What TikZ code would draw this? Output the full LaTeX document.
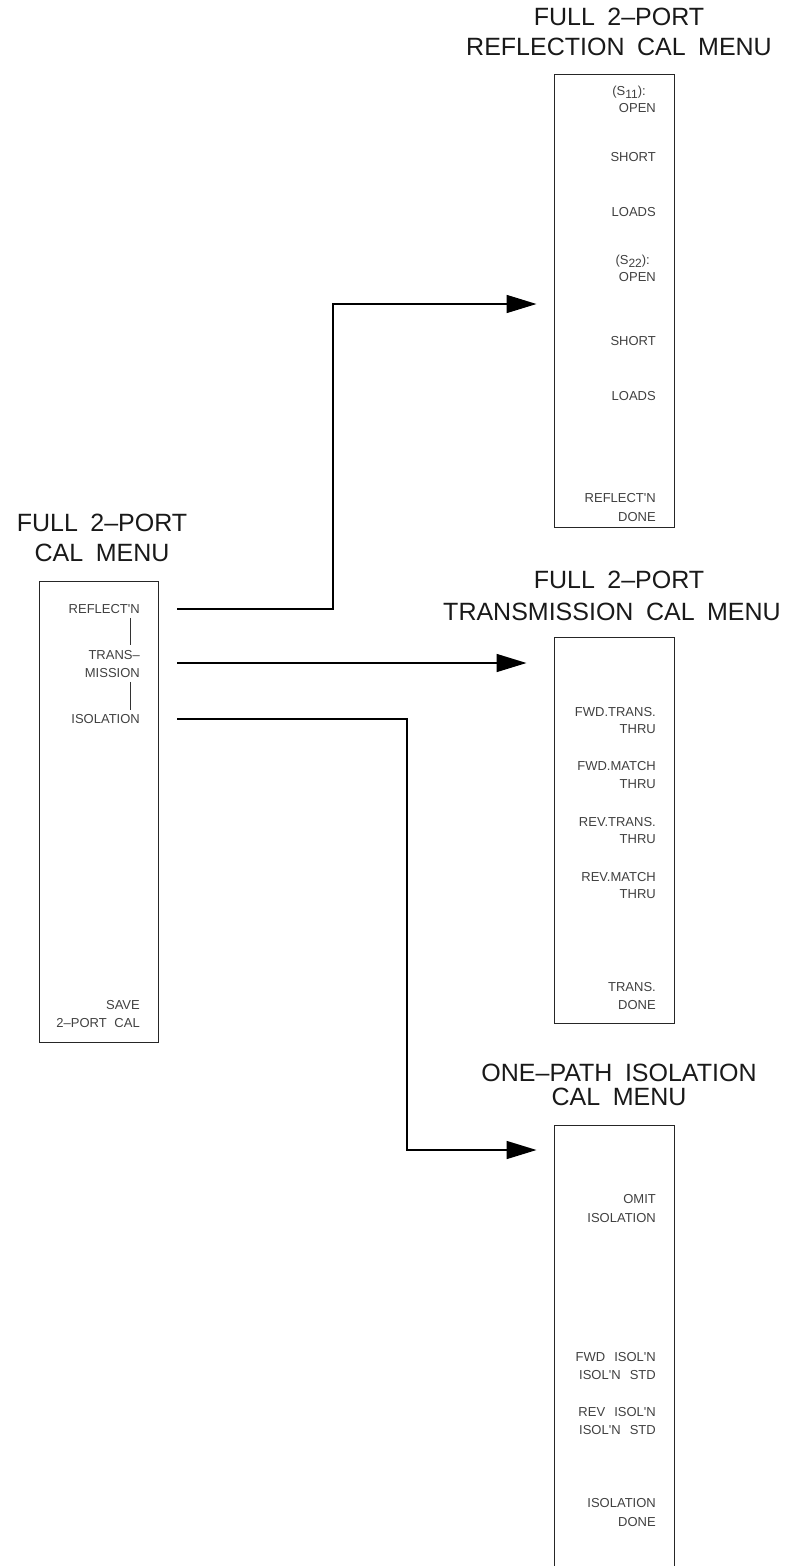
\documentclass[tikz,border=0pt]{standalone}
\usepackage{fontspec}
\setmainfont{Liberation Sans}
\usetikzlibrary{arrows.meta}
\newcommand\apo{\textquotesingle}
\newcommand\lowsub[1]{\raisebox{-3pt}{\fontsize{12}{12}\selectfont #1}}
\begin{document}
\begin{tikzpicture}[x=1pt,y=-1pt,
  title/.style={inner sep=0pt, font=\fontsize{25}{30}\selectfont, text=black!90},
  item/.style={inner sep=0pt, anchor=east, font=\fontsize{13}{17}\selectfont, text=black!75},
  itembase/.style={item, anchor=base east},
  menubox/.style={draw=black!85, line width=1pt, inner sep=0pt},
  conn/.style={line width=1.6pt},
  arr/.style={conn, -{Triangle[length=30pt,width=18pt]}},
  bar/.style={line width=1pt, draw=black!80}]
\useasboundingbox (0,0) rectangle (789,1566);

% ---------- left menu ----------
\node[title] (lt1) at (102,523) {FULL\hspace{0.5em}2–PORT};
\node[title] (lt2) at (102,553) {CAL\hspace{0.5em}MENU};
\node[menubox, minimum width=119pt, minimum height=461pt] (lbox) at (98.5,811.5) {};
\node[item] (lrefl) at (140,609) {REFLECT\apo N};
\node[item] (ltrans) at (140,655) {TRANS–};
\node[item] (lmiss) at (140,673) {MISSION};
\node[item] (liso) at (140,719) {ISOLATION};
\node[item] (lsave) at (140,1005) {SAVE};
\node[item] (lcal) at (140,1023) {2–PORT\hspace{0.6em}CAL};
\draw[bar] ([shift={(-10,4)}]lrefl.south east) -- ([shift={(-10,-5.4)}]ltrans.north east);
\draw[bar] ([shift={(-10,4)}]lmiss.south east) -- ([shift={(-10,-4.5)}]liso.north east);

% ---------- reflection menu ----------
\node[title] (rt1) at (619,17) {FULL\hspace{0.5em}2–PORT};
\node[title] (rt2) at (619,47) {REFLECTION\hspace{0.5em}CAL\hspace{0.5em}MENU};
\node[menubox, minimum width=120pt, minimum height=453pt] (rbox) at (614,300.5) {};
\node[itembase] (r1) at (646,95.7) {(S\lowsub{11}):};
\node[item] (r2) at (656,108) {OPEN};
\node[item] (r3) at (656,157) {SHORT};
\node[item] (r4) at (656,212) {LOADS};
\node[itembase] (r5) at (650,264.7) {(S\lowsub{22}):};
\node[item] (r6) at (656,277) {OPEN};
\node[item] (r7) at (656,341) {SHORT};
\node[item] (r8) at (656,396) {LOADS};
\node[item] (r9) at (656,498) {REFLECT\apo N};
\node[item] (r10) at (656,517) {DONE};

% ---------- transmission menu ----------
\node[title] (tt1) at (619,580) {FULL\hspace{0.5em}2–PORT};
\node[title] (tt2) at (612,612) {TRANSMISSION\hspace{0.5em}CAL\hspace{0.5em}MENU};
\node[menubox, minimum width=120pt, minimum height=386pt] (tbox) at (614,830) {};
\node[item] (t1) at (656,712) {FWD.TRANS.};
\node[item] (t2) at (656,729) {THRU};
\node[item] (t3) at (656,766) {FWD.MATCH};
\node[item] (t4) at (656,784) {THRU};
\node[item] (t5) at (656,822) {REV.TRANS.};
\node[item] (t6) at (656,839) {THRU};
\node[item] (t7) at (656,877) {REV.MATCH};
\node[item] (t8) at (656,894) {THRU};
\node[item] (t9) at (656,987) {TRANS.};
\node[item] (t10) at (656,1005) {DONE};

% ---------- isolation menu ----------
\node[title] (it1) at (619,1073) {ONE–PATH\hspace{0.5em}ISOLATION};
\node[title] (it2) at (619,1097) {CAL\hspace{0.5em}MENU};
\node[menubox, minimum width=120pt, minimum height=441pt] (ibox) at (614,1345.5) {};
\node[item] (i1) at (656,1199) {OMIT};
\node[item] (i2) at (656,1218) {ISOLATION};
\node[item] (i3) at (656,1357) {FWD\hspace{0.7em}ISOL\apo N};
\node[item] (i4) at (656,1375) {ISOL\apo N\hspace{0.7em}STD};
\node[item] (i5) at (656,1412) {REV\hspace{0.7em}ISOL\apo N};
\node[item] (i6) at (656,1430) {ISOL\apo N\hspace{0.7em}STD};
\node[item] (i7) at (656,1503) {ISOLATION};
\node[item] (i8) at (656,1522) {DONE};

% ---------- connectors ----------
\coordinate (s1) at ([xshift=18.5]lbox.east |- lrefl.east);
\coordinate (k1) at (333,304);
\draw[arr] (s1) -| (k1) -- ([xshift=-17]rbox.west |- k1);

\coordinate (s2) at (177,663);
\draw[arr] (s2) -- ([xshift=-27]tbox.west |- s2);

\coordinate (s3) at ([xshift=18.5]lbox.east |- liso.east);
\coordinate (k3) at (407,1150);
\draw[arr] (s3) -| (k3) -- ([xshift=-17]ibox.west |- k3);
\end{tikzpicture}
\end{document}
